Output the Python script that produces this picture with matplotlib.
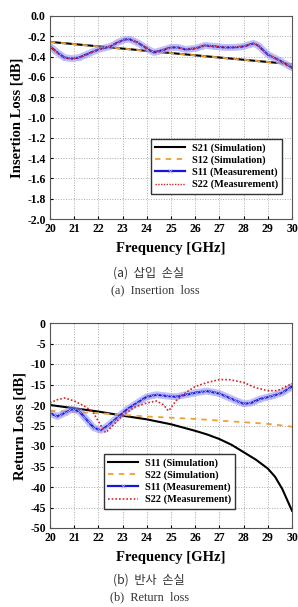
import numpy as np
import matplotlib.pyplot as plt

# insertion loss (top)
il_f_sim = [20, 30]
il_s21_sim = [-0.255, -0.475]
il_s12_sim = [-0.255, -0.475]
il_f_meas = [20, 20.3, 20.6, 20.9, 21.2, 21.5, 22, 22.5, 22.8, 23.1, 23.3, 23.6, 24, 24.3, 24.6,
             25, 25.3, 25.6, 26, 26.4, 26.8, 27.2, 27.6, 28, 28.4, 28.6, 29, 29.5, 30]
il_s11_meas = [-0.30, -0.36, -0.41, -0.42, -0.41, -0.38, -0.33, -0.30, -0.26, -0.23, -0.23, -0.26, -0.32,
               -0.36, -0.34, -0.31, -0.31, -0.33, -0.32, -0.29, -0.30, -0.31, -0.31, -0.30, -0.27, -0.29,
               -0.38, -0.44, -0.51]
il_s22_meas = il_s11_meas

# return loss (bottom)
rl_f_sim = [20, 21, 22, 23, 24, 25, 26, 26.5, 27, 27.5, 28, 28.5, 29, 29.3, 29.6, 30]
rl_s11_sim = [-20.0, -20.8, -21.6, -22.6, -23.5, -24.7, -26.3, -27.2, -28.3, -29.7, -31.5, -33.3, -35.5,
              -37.5, -40.5, -45.8]
rl_s22_sim = [-21.4, -21.7, -22.0, -22.4, -22.8, -23.1, -23.4, -23.6, -23.8, -24.0, -24.2, -24.4, -24.6,
              -24.8, -25.0, -25.3]
rl_f_s11 = [20, 20.3, 20.6, 20.9, 21.2, 21.5, 21.8, 22.1, 22.4, 22.8, 23.2, 23.6, 24, 24.4, 24.8, 25.2,
            25.6, 26, 26.5, 27, 27.5, 28, 28.3, 28.7, 29.2, 29.6, 30]
rl_s11_meas = [-22.0, -22.8, -22.0, -21.0, -21.5, -23.5, -25.5, -26.2, -25.0, -23.0, -21.0, -19.5, -18.0,
               -17.5, -17.8, -18.0, -17.5, -17.0, -16.6, -17.2, -18.5, -19.7, -19.5, -18.5, -17.8, -17.0,
               -15.5]
rl_f_s22 = [20, 20.3, 20.6, 21, 21.5, 21.8, 22.1, 22.3, 22.6, 23, 23.5, 24, 24.4, 24.7, 24.9, 25.2, 25.6,
            26, 26.5, 27, 27.4, 28, 28.5, 29, 29.4, 30]
rl_s22_meas = [-19.5, -18.7, -18.3, -19.0, -20.5, -22.0, -25.0, -26.8, -25.0, -22.5, -20.5, -19.5, -19.0,
               -20.0, -21.5, -19.0, -17.0, -15.5, -14.5, -13.8, -13.8, -14.5, -15.8, -16.5, -16.5, -14.8]

plt.rcParams['font.family'] = ['Liberation Serif', 'DejaVu Serif']
plt.rcParams['font.weight'] = 'bold'

fig = plt.figure(figsize=(2.98, 6.07), dpi=100)
W, H = 298, 607

def smooth(f, v):
    fs = np.linspace(f[0], f[-1], 300)
    return fs, np.interp(fs, f, v)

def style(ax, ylim, yticks, fmt, ylabel):
    ax.set_xlim(20, 30)
    ax.set_ylim(*ylim)
    ax.set_xticks(range(20, 31))
    ax.set_yticks(yticks)
    ax.set_yticklabels([fmt % (t if t != 0 else 0) for t in yticks])
    ax.grid(True, color='#aaaaaa', linestyle=':', linewidth=0.7)
    ax.tick_params(direction='in', length=2, labelsize=8.5, pad=3)
    for s in ax.spines.values():
        s.set_color('#555555')
        s.set_linewidth(0.8)
    ax.set_xlabel('Frequency [GHz]', fontsize=10.5, fontweight='bold', labelpad=5)
    ax.set_ylabel(ylabel, fontsize=10.5, fontweight='bold', labelpad=3)

def meas(ax, f, v, label):
    fs, vs = smooth(f, v)
    ax.plot(fs, vs, color='#9090ee', lw=5, alpha=0.55, solid_capstyle='round')
    ax.plot(fs, vs, color='#1515dd', lw=1.6, marker='x', markersize=3, markevery=6,
            markeredgecolor='#aaaaff', markeredgewidth=0.6, label=label)

# top
ax1 = fig.add_axes([50 / W, 1 - 219 / H, 242 / W, 203 / H])
ax1.plot(il_f_sim, il_s21_sim, color='black', lw=1.5, label='S21 (Simulation)')
ax1.plot(il_f_sim, il_s12_sim, color='#f0a030', lw=1.3, ls=(0, (3, 3)), label='S12 (Simulation)')
meas(ax1, il_f_meas, il_s11_meas, 'S11 (Measurement)')
fs, vs = smooth(il_f_meas, il_s22_meas)
ax1.plot(fs, vs, color='#dd2222', lw=1.0, ls=(0, (1, 1)), label='S22 (Measurement)')
style(ax1, (-2.0, 0.0), [round(-2.0 + 0.2 * i, 1) for i in range(11)], '%.1f', 'Insertion Loss [dB]')
ax1.legend(loc='lower right', bbox_to_anchor=(0.98, 0.1), fontsize=7.4, frameon=True, fancybox=False,
           edgecolor='#333333', framealpha=1, handlelength=3.0, borderpad=0.4, labelspacing=0.25,
           handletextpad=0.6)

# bottom
ax2 = fig.add_axes([50 / W, 1 - 528 / H, 242 / W, 205 / H])
ax2.plot(rl_f_sim, rl_s11_sim, color='black', lw=1.5, label='S11 (Simulation)')
ax2.plot(rl_f_sim, rl_s22_sim, color='#f0a030', lw=1.3, ls=(0, (3, 3)), label='S22 (Simulation)')
meas(ax2, rl_f_s11, rl_s11_meas, 'S11 (Measurement)')
fs, vs = smooth(rl_f_s22, rl_s22_meas)
ax2.plot(fs, vs, color='#dd2222', lw=1.2, ls=(0, (1, 1.2)), label='S22 (Measurement)')
style(ax2, (-50, 0), list(range(-50, 1, 5)), '%d', 'Return Loss [dB]')
ax2.legend(loc='lower left', bbox_to_anchor=(0.2, 0.07), fontsize=7.4, frameon=True, fancybox=False,
           edgecolor='#333333', framealpha=1, handlelength=3.0, borderpad=0.4, labelspacing=0.25,
           handletextpad=0.6)

cap = dict(ha='center', va='center', fontsize=8.8, fontweight='normal', color='#333333')
fig.text(149 / W, 1 - 273 / H, '(a)  삽입  손실', family=['Noto Sans CJK KR', 'DejaVu Sans'], **cap)
fig.text(155 / W, 1 - 290 / H, '(a)  Insertion  loss', **cap)
fig.text(149 / W, 1 - 580 / H, '(b)  반사  손실', family=['Noto Sans CJK KR', 'DejaVu Sans'], **cap)
fig.text(150 / W, 1 - 597 / H, '(b)  Return  loss', **cap)

fig.savefig('out.png', dpi=100)
